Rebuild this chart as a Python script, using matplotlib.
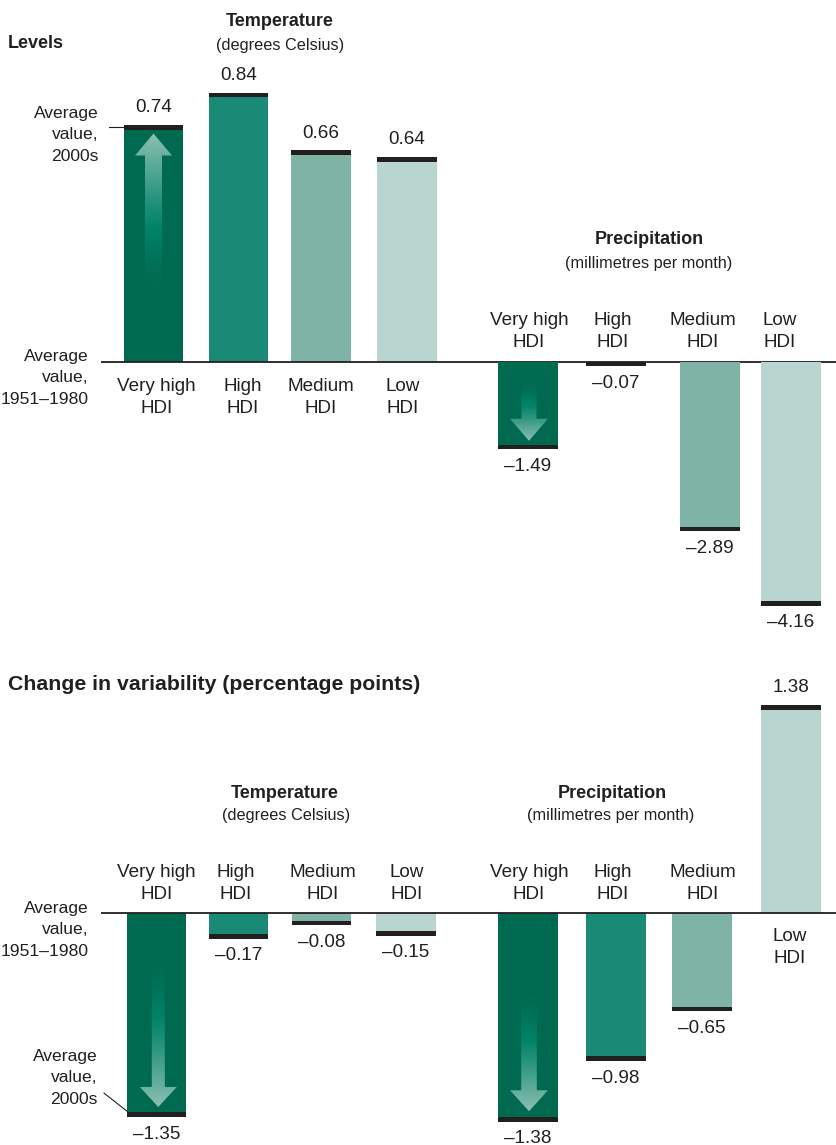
import numpy as np
import matplotlib.pyplot as plt
from matplotlib.patches import Polygon
from matplotlib.colors import to_rgb

plt.rcParams['font.family'] = ['Liberation Sans', 'DejaVu Sans']

W, H = 836, 1145

# data
groups = [['Very high', 'HDI'], ['High', 'HDI'], ['Medium', 'HDI'], ['Low', 'HDI']]
levels_temp = [0.74, 0.84, 0.66, 0.64]
levels_precip = [-1.49, -0.07, -2.89, -4.16]
var_temp = [-1.35, -0.17, -0.08, -0.15]
var_precip = [-1.38, -0.98, -0.65, 1.38]

colors = ['#006a50', '#1a8a76', '#7fb3a5', '#b8d6cf']
ink = '#231f20'
FS = 13.6

fig = plt.figure(figsize=(W / 100, H / 100), dpi=100)


def fxy(x, y):
    return x / W, 1 - y / H


def ftext(x, y, s, **kw):
    kw.setdefault('fontsize', FS)
    kw.setdefault('va', 'center')
    fig.text(*fxy(x, y), s, color=ink, **kw)


def flines(x, yc, lines, ha='right', gap=21.7):
    n = len(lines)
    for i, ln in enumerate(lines):
        ftext(x, yc + (i - (n - 1) / 2) * gap, ln, ha=ha, fontsize=12.6)


def make_ax(top, bottom, base, scale):
    ax = fig.add_axes([0, 1 - bottom / H, 1, (bottom - top) / H])
    ax.set_xlim(0, W)
    ax.set_ylim(-(bottom - base) / scale, (base - top) / scale)
    ax.axis('off')
    ax.patch.set_alpha(0)
    return ax


def fmt(v):
    return f'{v:.2f}'.replace('-', '\u2013')


def bars(ax, xs, vals, scale, width=59.5):
    vals = np.array(vals)
    ax.bar(xs, vals, width=width, color=colors, zorder=2)
    t = 4.8 / scale
    ax.bar(xs, -np.sign(vals) * t, bottom=vals, width=width, color=ink, zorder=4)
    for x, v in zip(xs, vals):
        s = 1 if v > 0 else -1
        ax.annotate(fmt(v), xy=(x, v), xytext=(0, s * 17), textcoords='offset pixels',
                    ha='center', va='center', fontsize=FS, color=ink)


def cat_labels(ax, xs, idx, offset, gap=21.5):
    for x, i in zip(xs, idx):
        for j, ln in enumerate(groups[i]):
            dy = offset - (j - 0.5) * gap
            ax.annotate(ln, xy=(x, 0), xytext=(0, dy), textcoords='offset pixels',
                        ha='center', va='center', fontsize=FS, color=ink)


def arrow(ax, xc, v, scale, f0, f1, head_len, head_w, shaft_w):
    s = 1 if v > 0 else -1
    y0, y1 = v * f0, v * f1
    hl = s * head_len / scale
    verts = [(xc - shaft_w / 2, y0), (xc - shaft_w / 2, y1 - hl), (xc - head_w / 2, y1 - hl),
             (xc, y1), (xc + head_w / 2, y1 - hl), (xc + shaft_w / 2, y1 - hl),
             (xc + shaft_w / 2, y0)]
    poly = Polygon(verts, closed=True, fc='none', ec='none')
    ax.add_patch(poly)
    t = np.linspace(0, 1, 300)
    cstops = [to_rgb('#006a50'), to_rgb('#00866b'), to_rgb('#8fc0b3')]
    img = np.zeros((300, 2, 4))
    for k in range(3):
        img[:, :, k] = np.interp(t, [0, 0.45, 1], [c[k] for c in cstops])[:, None]
    img[:, :, 3] = np.interp(t, [0, 0.4, 1], [0, 0.9, 1])[:, None]
    if s < 0:
        img = img[::-1]
    im = ax.imshow(img, extent=[xc - head_w / 2, xc + head_w / 2, min(y0, y1), max(y0, y1)],
                   origin='lower', aspect='auto', interpolation='bilinear', zorder=3)
    im.set_clip_path(poly)


# ---------------- Levels ----------------
base1 = 362.3
ST, SP, SV = 321, 58.5, 151
ax_t = make_ax(60, 650, base1, ST)
ax_p = make_ax(60, 650, base1, SP)

xt1 = [153.7, 238.7, 320.9, 406.9]
xp1 = [528, 616, 710, 791]

bars(ax_t, xt1, levels_temp, ST)
bars(ax_p, xp1, levels_precip, SP)
arrow(ax_t, 153.5, levels_temp[0], ST, 0.24, 0.963, 22, 37, 17)
arrow(ax_p, 529, levels_precip[0], SP, 0.16, 0.9, 22, 38, 15)
ax_t.plot([101, W], [0, 0], color=ink, lw=1.3, zorder=5, solid_capstyle='butt')
ax_t.plot([109, 124], [levels_temp[0] - 2.4 / ST] * 2, color=ink, lw=0.8)

cat_labels(ax_t, [156.7, 242.8, 321, 403], range(4), -35)
cat_labels(ax_p, [529, 613, 703, 780], range(4), 31)

ftext(8, 43, 'Levels', fontweight='bold', ha='left', fontsize=13)
ftext(280, 21.7, 'Temperature', fontweight='bold', ha='center', fontsize=13)
ftext(280, 45.7, '(degrees Celsius)', fontsize=11.7, ha='center')
ftext(649, 240, 'Precipitation', fontweight='bold', ha='center', fontsize=13)
ftext(649, 263.3, '(millimetres per month)', fontsize=11.7, ha='center')
flines(98.7, 135, ['Average', 'value,', '2000s'])
flines(89, 378, ['Average', 'value,', '1951\u20131980'])

# ---------------- Change in variability ----------------
base2 = 913.3
ax_v = make_ax(660, 1145, base2, SV)

xt2 = [156.7, 238.3, 321.7, 406]
xp2 = [527.9, 616, 702, 791]

bars(ax_v, xt2, var_temp, SV)
bars(ax_v, xp2, var_precip, SV)
arrow(ax_v, 158.3, var_temp[0], SV, 0.165, 0.95, 20, 37, 13)
arrow(ax_v, 529, var_precip[0], SV, 0.335, 0.95, 21, 38, 15.6)
ax_v.plot([101, W], [0, 0], color=ink, lw=1.3, zorder=5, solid_capstyle='butt')
v0 = var_temp[0]
ax_v.plot([104, 127], [v0 + 24 / SV, v0 + 6 / SV], color=ink, lw=0.8)

cat_labels(ax_v, [156.7, 235.8, 323, 406.7], range(4), 30)
cat_labels(ax_v, [529, 613, 703], range(3), 30)
cat_labels(ax_v, [790], [3], -34)

ftext(8, 685, 'Change in variability (percentage points)', fontweight='bold', ha='left',
      fontsize=15.3)
ftext(285, 794, 'Temperature', fontweight='bold', ha='center', fontsize=13)
ftext(286, 815.5, '(degrees Celsius)', fontsize=11.7, ha='center')
ftext(612, 794, 'Precipitation', fontweight='bold', ha='center', fontsize=13)
ftext(611, 815.5, '(millimetres per month)', fontsize=11.7, ha='center')
flines(89, 930, ['Average', 'value,', '1951\u20131980'])
flines(97.7, 1078, ['Average', 'value,', '2000s'])

for ax, sc in ((ax_t, ST), (ax_p, SP)):
    ax.set_xlim(0, W)
    ax.set_ylim(-(650 - base1) / sc, (base1 - 60) / sc)
ax_v.set_xlim(0, W)
ax_v.set_ylim(-(1145 - base2) / SV, (base2 - 660) / SV)

fig.savefig('out.png', dpi=100)
